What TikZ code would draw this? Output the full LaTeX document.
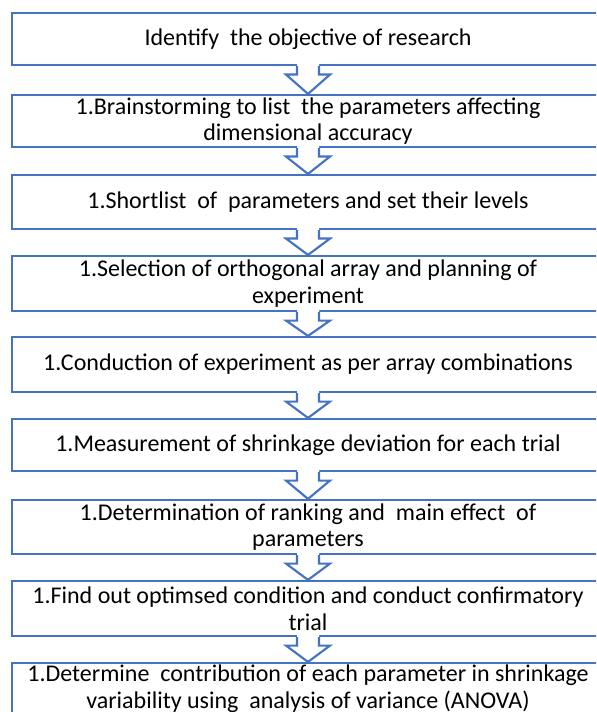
\documentclass[tikz,border=0pt]{standalone}
\usepackage{fontspec}
\setmainfont{Carlito}
\usetikzlibrary{calc}
\definecolor{stepblue}{HTML}{4472C4}
\tikzset{
  stepbox/.style={draw=stepblue, line width=1.6pt, fill=white, inner sep=0pt,
    minimum width=592*0.75pt, align=center,
    font=\fontsize{18}{20}\selectfont},
  flowarrow/.style={draw=stepblue, line width=1.6pt, line join=miter},
}
% block arrow from the bottom of one box to the top of the next
\newcommand\blockarrow[2]{%
  \fill[white] ($(#1.south)+(-11,-2)$) -- ($(#1.south)+(-11,8.5)$) -- ($(#1.south)+(-22,8.5)$)
    -- (#2.north) -- ($(#1.south)+(22,8.5)$) -- ($(#1.south)+(11,8.5)$) -- ($(#1.south)+(11,-2)$) -- cycle;
  \draw[flowarrow] ($(#1.south)+(-11,0)$) -- ($(#1.south)+(-11,8.5)$) -- ($(#1.south)+(-22,8.5)$)
    -- (#2.north) -- ($(#1.south)+(22,8.5)$) -- ($(#1.south)+(11,8.5)$) -- ($(#1.south)+(11,0)$);
}
\begin{document}
\begin{tikzpicture}[x=0.75pt, y=-0.75pt]
\useasboundingbox (0,0) rectangle (596,712);
\clip (0,0) rectangle (596,712);
\node[stepbox, minimum height=52*0.75pt] (b1) at (308,39) {Identify\ \ the objective of research};
\node[stepbox, minimum height=52*0.75pt] (b2) at (308,121) {1.Brainstorming to list\ \ the parameters affecting\\dimensional accuracy};
\node[stepbox, minimum height=54*0.75pt] (b3) at (308,202) {1.Shortlist\ \ of\ \ parameters and set their levels};
\node[stepbox, minimum height=55*0.75pt] (b4) at (308,283.5) {1.Selection of orthogonal array and planning of\\experiment};
\node[stepbox, minimum height=55*0.75pt] (b5) at (308,364.5) {1.Conduction of experiment as per array combinations};
\node[stepbox, minimum height=52*0.75pt] (b6) at (308,445) {1.Measurement of shrinkage deviation for each trial};
\node[stepbox, minimum height=54*0.75pt] (b7) at (308,527) {1.Determination of ranking and\ \ main effect\ \ of\\parameters};
\node[stepbox, minimum height=55*0.75pt] (b8) at (308,608.5) {1.Find out optimsed condition and conduct confirmatory\\trial};
\node[stepbox, minimum height=52*0.75pt] (b9) at (308,689) {1.Determine\ \ contribution of each parameter in shrinkage\\variability using\ \ analysis of variance (ANOVA)};
\blockarrow{b1}{b2}
\blockarrow{b2}{b3}
\blockarrow{b3}{b4}
\blockarrow{b4}{b5}
\blockarrow{b5}{b6}
\blockarrow{b6}{b7}
\blockarrow{b7}{b8}
\blockarrow{b8}{b9}
\end{tikzpicture}
\end{document}
